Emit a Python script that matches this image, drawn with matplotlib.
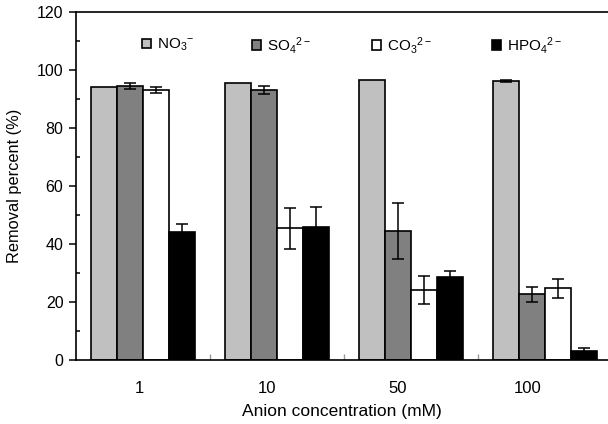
import numpy as np
import matplotlib
matplotlib.use("Agg")
import matplotlib.pyplot as plt
from matplotlib.ticker import MultipleLocator, FixedLocator
from matplotlib.legend import Legend

plt.rcParams['font.family'] = ['Liberation Sans', 'DejaVu Sans']
plt.rcParams['mathtext.fontset'] = 'custom'
plt.rcParams['mathtext.rm'] = 'Liberation Sans'
plt.rcParams['mathtext.it'] = 'Liberation Sans'

categories = ['1', '10', '50', '100']
series_names = [r'NO$_3$$^{-}$', r'SO$_4$$^{2-}$', r'CO$_3$$^{2-}$', r'HPO$_4$$^{2-}$']
no3 = [94.0, 95.6, 96.6, 96.2]
no3_err = [0.0, 0.0, 0.0, 0.4]
so4 = [94.6, 93.1, 44.5, 22.6]
so4_err = [1.0, 1.5, 9.7, 2.6]
co3 = [93.1, 45.4, 24.1, 24.7]
co3_err = [0.9, 7.1, 4.8, 3.3]
hpo4 = [44.0, 46.0, 28.7, 3.1]
hpo4_err = [2.9, 6.6, 2.1, 0.9]

values = [no3, so4, co3, hpo4]
errors = [no3_err, so4_err, co3_err, hpo4_err]
colors = ['#c0c0c0', '#808080', '#ffffff', '#000000']

W, H = 608, 424
fig = plt.figure(figsize=(W / 100, H / 100), dpi=100)
ax = fig.add_axes([76 / W, 1 - 360 / H, 1 - 76 / W, (360 - 12) / H])

x = np.arange(len(categories))
bw = 0.194
handles = []
for i, (vals, errs, c) in enumerate(zip(values, errors, colors)):
    pos = x + (i - 1.5) * bw
    b = ax.bar(pos, vals, width=bw, color=c, edgecolor='black', linewidth=1.2, zorder=2)
    handles.append(b)
    vals_a = np.array(vals)
    errs_a = np.array(errs)
    m = errs_a > 0
    ax.errorbar(pos[m], vals_a[m], yerr=errs_a[m], fmt='none', ecolor='black',
                elinewidth=1.1, capsize=4.5, capthick=1.1, zorder=3)

ax.set_xlim(-0.5, -0.5 + (W - 76) / 134.0)
ax.set_ylim(0, 120)

ax.spines['right'].set_visible(False)
for s in ['left', 'bottom', 'top']:
    ax.spines[s].set_linewidth(1.2)

ax.yaxis.set_major_locator(MultipleLocator(20))
ax.yaxis.set_minor_locator(MultipleLocator(10))
ax.tick_params(axis='y', which='major', direction='out', length=5, width=1.1,
               labelsize=11.5, pad=4)
ax.tick_params(axis='y', which='minor', direction='in', length=3, width=1.1)

label_pos = [-0.03, 0.925, 1.90, 2.87]
ax.xaxis.set_major_locator(FixedLocator(label_pos))
ax.set_xticklabels(categories)
ax.xaxis.set_minor_locator(FixedLocator([0.5, 1.5, 2.5]))
ax.tick_params(axis='x', which='major', length=0, labelsize=12, pad=15)
ax.tick_params(axis='x', which='minor', direction='in', length=4, width=1.0, color='#999999')
ax.tick_params(axis='both', which='both', top=False, right=False)

ax.set_xlabel('Anion concentration (mM)', fontsize=12.5, labelpad=6)
ax.set_ylabel('Removal percent (%)', fontsize=11.8, labelpad=11)

leg_x = [142, 252, 372, 492]
for h, lab, lx in zip(handles, series_names, leg_x):
    lg = Legend(ax, [h], [lab], loc='center left',
                bbox_to_anchor=(lx / W, 1 - 45 / H), bbox_transform=fig.transFigure,
                frameon=False, fontsize=11, handlelength=0.6, handleheight=0.6,
                handletextpad=0.35, borderpad=0, borderaxespad=0)
    ax.add_artist(lg)

fig.savefig('out.png', dpi=100)
